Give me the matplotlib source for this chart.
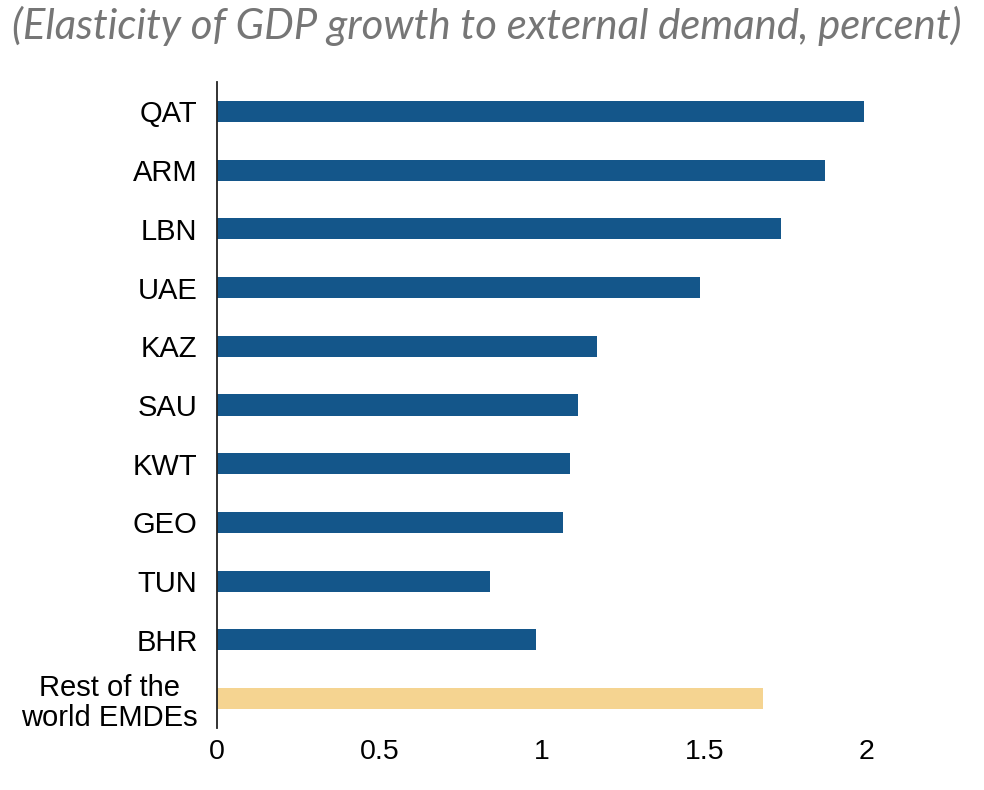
import matplotlib
matplotlib.use("Agg")
import matplotlib.pyplot as plt

# values
countries = ["QAT", "ARM", "LBN", "UAE", "KAZ", "SAU", "KWT", "GEO", "TUN", "BHR",
             "Rest of the\nworld EMDEs"]
elasticity = [1.99, 1.87, 1.735, 1.485, 1.17, 1.11, 1.085, 1.065, 0.84, 0.98, 1.68]
bar_colors = ["#14568A"] * 10 + ["#F5D491"]
xticks = [0, 0.5, 1, 1.5, 2]
xtick_labels = ["0", "0.5", "1", "1.5", "2"]
title = "(Elasticity of GDP growth to external demand, percent)"

fig = plt.figure(figsize=(9.84, 7.9), dpi=100)
ax = fig.add_axes([217 / 984, 1 - 728 / 790, (867 - 217) / 984, (728 - 82) / 790])

ypos = list(range(len(countries)))
ax.barh(ypos, elasticity, height=0.36, color=bar_colors)

ax.set_ylim(len(countries) - 0.5, -0.5)
ax.set_xlim(0, 2)
ax.set_yticks(ypos)
ax.set_yticklabels(countries, fontsize=21, family="Liberation Sans",
                   multialignment="center", linespacing=1.1)
ax.set_xticks(xticks)
ax.set_xticklabels(xtick_labels, fontsize=20.5, family="Liberation Sans")
ax.tick_params(axis="y", length=0, pad=14)
ax.tick_params(axis="x", length=0, pad=8)

for s in ["top", "right", "bottom"]:
    ax.spines[s].set_visible(False)
ax.spines["left"].set_linewidth(1.3)
ax.spines["left"].set_color("#222222")

t = fig.text(12 / 984, 1 - 26 / 790, title, fontsize=25, family="Lato", style="italic",
             color="#767676", ha="left", va="center")
# fit title width to the reference span
fig.canvas.draw()
w = t.get_window_extent().width
t.set_fontsize(25 * 950 / w)

fig.savefig("out.png", dpi=100)
